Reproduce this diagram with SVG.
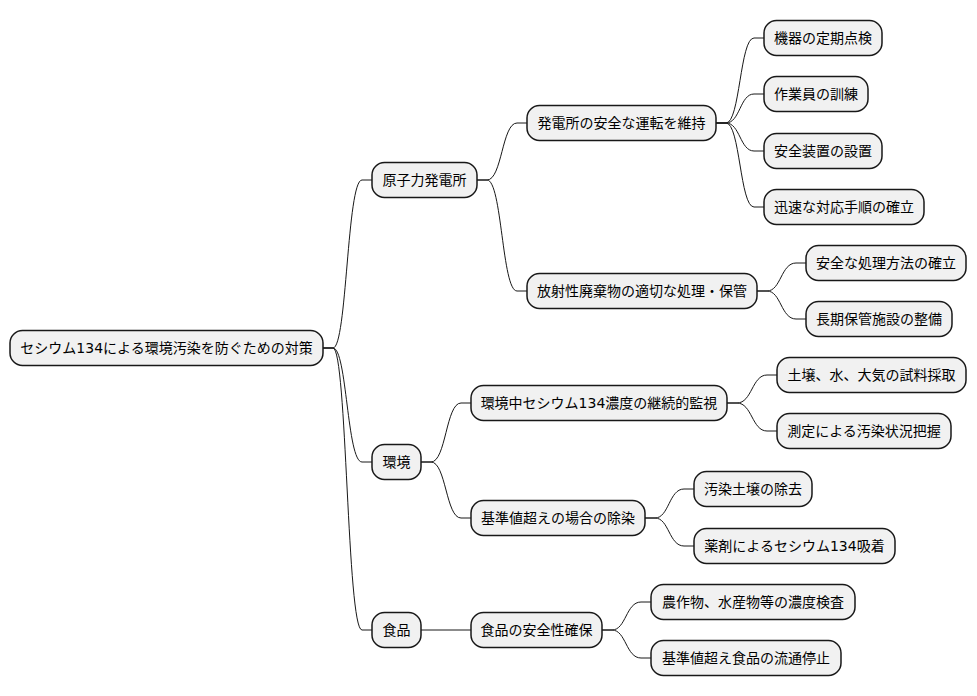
<svg xmlns="http://www.w3.org/2000/svg" width="977" height="696" viewBox="0 0 977 696">
<style>
.n rect{fill:#F1F1F1;stroke:#181818;stroke-width:1.5}
.n text{font-family:"DejaVu Sans","Noto Sans CJK JP",sans-serif;font-size:14px;fill:#000;text-anchor:middle}
#edges path{fill:none;stroke:#181818;stroke-width:1}
</style>
<rect width="977" height="696" fill="#fff"/>
<g id="edges">
<path d="M323,348 L333,348 C347,348 347,180 362,180 L372,180"/>
<path d="M323,348 L333,348 C347,348 347,462 362,462 L372,462"/>
<path d="M323,348 L333,348 C347,348 347,630 362,630 L372,630"/>
<path d="M477,180 L487,180 C502,180 502,123 517,123 L527,123"/>
<path d="M477,180 L487,180 C502,180 502,291 517,291 L527,291"/>
<path d="M716,123 L726,123 C740,123 740,38 754,38 L764,38"/>
<path d="M716,123 L726,123 C740,123 740,94 754,94 L764,94"/>
<path d="M716,123 L726,123 C740,123 740,151 754,151 L764,151"/>
<path d="M716,123 L726,123 C740,123 740,207 754,207 L764,207"/>
<path d="M757,291 L767,291 C781,291 781,263 796,263 L806,263"/>
<path d="M757,291 L767,291 C781,291 781,319 796,319 L806,319"/>
<path d="M421,462 L431,462 C446,462 446,403 461,403 L471,403"/>
<path d="M421,462 L431,462 C446,462 446,518 461,518 L471,518"/>
<path d="M727,403 L737,403 C752,403 752,375 767,375 L777,375"/>
<path d="M727,403 L737,403 C752,403 752,431 767,431 L777,431"/>
<path d="M645,518 L655,518 C669,518 669,489 684,489 L694,489"/>
<path d="M645,518 L655,518 C669,518 669,546 684,546 L694,546"/>
<path d="M421,630 L471,630"/>
<path d="M602,630 L612,630 C626,630 626,602 641,602 L651,602"/>
<path d="M602,630 L612,630 C626,630 626,658 641,658 L651,658"/>
</g>
<g id="root" class="n"><rect x="10" y="330.5" width="313" height="35" rx="12.5"/><text x="166.5" y="353">セシウム134による環境汚染を防ぐための対策</text></g>
<g id="n1" class="n"><rect x="372" y="162.5" width="105" height="35" rx="12.5"/><text x="424.5" y="185">原子力発電所</text></g>
<g id="n2" class="n"><rect x="372" y="444.5" width="49" height="35" rx="12.5"/><text x="396.5" y="467">環境</text></g>
<g id="n3" class="n"><rect x="372" y="612.5" width="49" height="35" rx="12.5"/><text x="396.5" y="635">食品</text></g>
<g id="n11" class="n"><rect x="527" y="105.5" width="189" height="35" rx="12.5"/><text x="621.5" y="128">発電所の安全な運転を維持</text></g>
<g id="n12" class="n"><rect x="527" y="273.5" width="230" height="35" rx="12.5"/><text x="642" y="296">放射性廃棄物の適切な処理・保管</text></g>
<g id="n21" class="n"><rect x="471" y="385.5" width="256" height="35" rx="12.5"/><text x="599" y="408">環境中セシウム134濃度の継続的監視</text></g>
<g id="n22" class="n"><rect x="471" y="500.5" width="174" height="35" rx="12.5"/><text x="558" y="523">基準値超えの場合の除染</text></g>
<g id="n31" class="n"><rect x="471" y="612.5" width="131" height="35" rx="12.5"/><text x="536.5" y="635">食品の安全性確保</text></g>
<g id="l1" class="n"><rect x="764" y="20.5" width="118" height="35" rx="12.5"/><text x="823" y="43">機器の定期点検</text></g>
<g id="l2" class="n"><rect x="764" y="76.5" width="104" height="35" rx="12.5"/><text x="816" y="99">作業員の訓練</text></g>
<g id="l3" class="n"><rect x="764" y="133.5" width="118" height="35" rx="12.5"/><text x="823" y="156">安全装置の設置</text></g>
<g id="l4" class="n"><rect x="764" y="189.5" width="160" height="35" rx="12.5"/><text x="844" y="212">迅速な対応手順の確立</text></g>
<g id="l5" class="n"><rect x="806" y="245.5" width="160" height="35" rx="12.5"/><text x="886" y="268">安全な処理方法の確立</text></g>
<g id="l6" class="n"><rect x="806" y="301.5" width="146" height="35" rx="12.5"/><text x="879" y="324">長期保管施設の整備</text></g>
<g id="l7" class="n"><rect x="777" y="357.5" width="189" height="35" rx="12.5"/><text x="871.5" y="380">土壌、水、大気の試料採取</text></g>
<g id="l8" class="n"><rect x="777" y="413.5" width="174" height="35" rx="12.5"/><text x="864" y="436">測定による汚染状況把握</text></g>
<g id="l9" class="n"><rect x="694" y="471.5" width="118" height="35" rx="12.5"/><text x="753" y="494">汚染土壌の除去</text></g>
<g id="l10" class="n"><rect x="694" y="528.5" width="201" height="35" rx="12.5"/><text x="794.5" y="551">薬剤によるセシウム134吸着</text></g>
<g id="l11" class="n"><rect x="651" y="584.5" width="204" height="35" rx="12.5"/><text x="753" y="607">農作物、水産物等の濃度検査</text></g>
<g id="l12" class="n"><rect x="651" y="640.5" width="190" height="35" rx="12.5"/><text x="746" y="663">基準値超え食品の流通停止</text></g>
</svg>
